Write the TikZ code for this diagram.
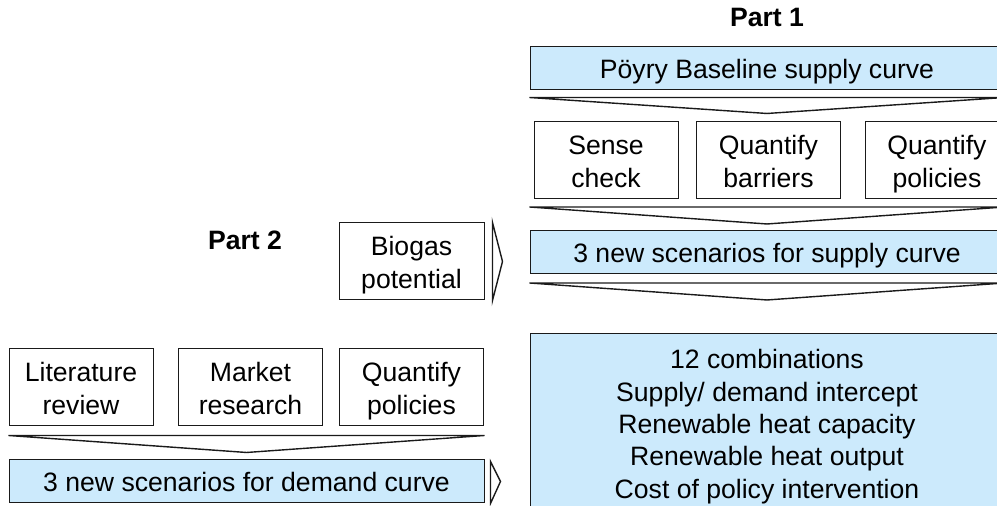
\documentclass[tikz,border=0pt]{standalone}
\usepackage{fontspec}
\setsansfont{Liberation Sans}
\usetikzlibrary{calc}
\definecolor{pfInk}{HTML}{1A1A1A}
\definecolor{pfPale}{HTML}{CCEAFC}
% struts for the first and the last line of a box
\newcommand{\pfT}{\rule{0pt}{14pt}}
\newcommand{\pfB}{\rule[-3.5pt]{0pt}{3.5pt}}
\tikzset{
  pf text/.style={font=\sffamily\fontsize{13.3}{16.2}\selectfont, text=black},
  pf box/.style={pf text, draw=pfInk, line width=0.5pt, align=center, inner sep=0pt, minimum width=72pt, minimum height=38.5pt},
  pf wide/.style={pf box, fill=pfPale, minimum width=237pt, minimum height=21.5pt},
  pf chev/.style={draw=pfInk, line width=0.7pt, line join=miter},
  pf part/.style={font=\sffamily\bfseries\fontsize{13.3}{16}\selectfont, text=black},
}

\begin{document}
\begin{tikzpicture}[x=0.5pt,y=0.5pt]
\useasboundingbox(0,0)rectangle(997,506);
\clip(0,0)rectangle(997,506);
% part 1: supply curve
\node[pf part](part1)at(767,489){Part 1};
\node[pf wide](base)at(767,437.5){\pfT Pöyry Baseline supply curve\pfB};
\node[pf box](sense)at(606,345.5){\pfT Sense\\check\pfB};
\node[pf box](barr)at(768.5,345.5){\pfT Quantify\\barriers\pfB};
\node[pf box](pol1)at(937,345.5){\pfT Quantify\\policies\pfB};
\node[pf wide](supply)at(767,254){\pfT 3 new scenarios for supply curve\pfB};
\node[pf wide,minimum height=89pt](out)at(767,83){\pfT 12 combinations\\Supply/ demand intercept\\Renewable heat capacity\\Renewable heat output\\Cost of policy intervention\pfB};
\draw[pf chev]($(base.south west)+(0,-7)$)--($(base.south east)+(0,-7)$)--($(base.south)+(0,-23)$)--cycle;
\draw[pf chev]($(supply.north west)+(0,23)$)--($(supply.north east)+(0,23)$)--($(supply.north)+(0,6)$)--cycle;
\draw[pf chev]($(supply.south west)+(0,-9)$)--($(supply.south east)+(0,-9)$)--($(supply.south)+(0,-26)$)--cycle;
% part 2: demand curve
\node[pf part](part2)at(245,266){Part 2};
\node[pf box,minimum width=72.5pt](bio)at(411.5,244.5){\pfT Biogas\\potential\pfB};
\node[pf box](lit)at(81,118.5){\pfT Literature\\review\pfB};
\node[pf box](market)at(250.5,118.5){\pfT Market\\research\pfB};
\node[pf box](pol2)at(411.5,118.5){\pfT Quantify\\policies\pfB};
\node[pf wide,minimum width=237.5pt](demand)at(246.5,24.5){\pfT 3 new scenarios for demand curve\pfB};
\draw[pf chev]($(demand.north west)+(0,24)$)--($(demand.north east)+(0,24)$)--($(demand.north)+(0,7)$)--cycle;
\draw[pf chev]($(bio.north east)+(8,0)$)--($(bio.east)+(18,0)$)--($(bio.south east)+(8,0)$)--cycle;
\draw[pf chev]($(demand.north east)+(6,-2)$)--($(demand.east)+(16,0)$)--($(demand.south east)+(6,0)$)--cycle;
\end{tikzpicture}
\end{document}
